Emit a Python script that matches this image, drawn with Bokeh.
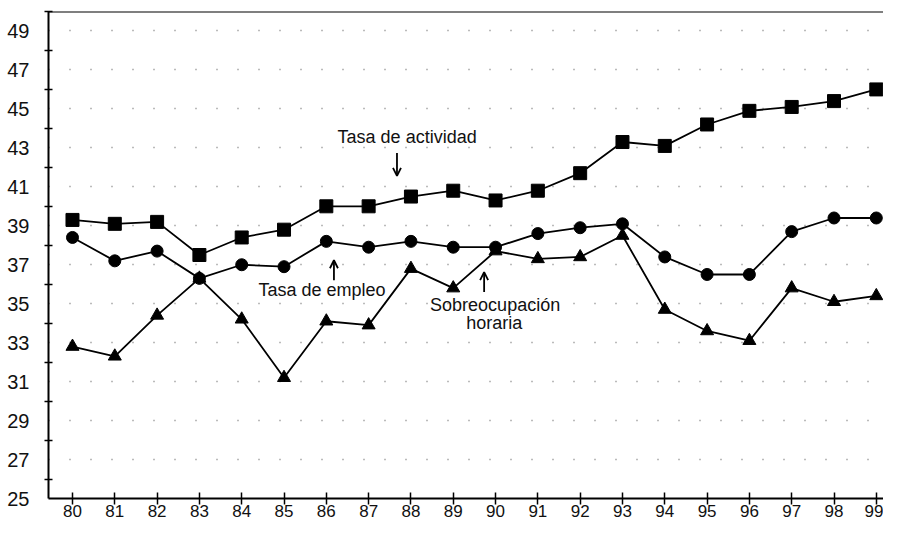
from bokeh.plotting import figure
from bokeh.models import FixedTicker, Span, Arrow, OpenHead, Label
from bokeh.embed import file_html
from bokeh.resources import INLINE

# ---- data ----
years = list(range(80, 100))
year_labels = [str(y) for y in years]
actividad = [39.3, 39.1, 39.2, 37.5, 38.4, 38.8, 40.0, 40.0, 40.5, 40.8,
             40.3, 40.8, 41.7, 43.3, 43.1, 44.2, 44.9, 45.1, 45.4, 46.0]
empleo = [38.4, 37.2, 37.7, 36.3, 37.0, 36.9, 38.2, 37.9, 38.2, 37.9,
          37.9, 38.6, 38.9, 39.1, 37.4, 36.5, 36.5, 38.7, 39.4, 39.4]
sobreocupacion = [32.8, 32.3, 34.4, 36.3, 34.2, 31.2, 34.1, 33.9, 36.8, 35.8,
                  37.7, 37.3, 37.4, 38.5, 34.7, 33.6, 33.1, 35.8, 35.1, 35.4]
y_ticks = list(range(25, 50, 2))
y_minor = list(range(26, 51, 2))

FONT = "Liberation Sans"

p = figure(width=883, height=520, x_range=(79.433, 99.17), y_range=(25, 50),
           output_backend="svg", toolbar_location=None,
           min_border_left=48, min_border_right=0, min_border_top=11,
           min_border_bottom=22)
p.outline_line_color = None
p.background_fill_color = "white"

# axes
p.xaxis.ticker = FixedTicker(ticks=years)
p.xaxis.major_label_overrides = {y: s for y, s in zip(years, year_labels)}
p.xaxis.major_tick_in = 6
p.xaxis.major_tick_out = 6
p.xaxis.minor_tick_line_color = None
p.xaxis.axis_line_width = 2
p.xaxis.major_tick_line_width = 1.5
p.xaxis.major_label_standoff = 0
p.xaxis.major_label_text_font = FONT
p.xaxis.major_label_text_font_size = "17px"
p.xaxis.major_label_text_color = "#111111"

p.yaxis.ticker = FixedTicker(ticks=y_ticks, minor_ticks=y_minor)
p.yaxis.major_tick_in = 0
p.yaxis.major_tick_out = 0
p.yaxis.minor_tick_in = 4
p.yaxis.minor_tick_out = 4
p.yaxis.minor_tick_line_width = 1.5
p.yaxis.axis_line_width = 2
p.yaxis.major_label_standoff = 15
p.yaxis.major_label_text_font = FONT
p.yaxis.major_label_text_font_size = "20px"
p.yaxis.major_label_text_color = "#111111"

# grid
p.xgrid.grid_line_color = None
p.ygrid.ticker = FixedTicker(ticks=y_ticks)
p.ygrid.grid_line_color = "#777777"
p.ygrid.grid_line_dash = "1 20"
p.ygrid.grid_line_width = 1.5

# top border
p.add_layout(Span(location=50, dimension="width", line_color="black", line_width=2))

# series
p.line(years, actividad, line_color="black", line_width=1.8)
p.scatter(years, actividad, marker="square", size=13, color="black")
p.line(years, empleo, line_color="black", line_width=1.8)
p.scatter(years, empleo, marker="circle", size=12, color="black")
p.line(years, sobreocupacion, line_color="black", line_width=1.8)
p.scatter(years, sobreocupacion, marker="triangle", size=13, color="black")

# annotations
def lab(x, y, t):
    p.add_layout(Label(x=x, y=y, text=t, text_font=FONT, text_font_size="18px",
                       text_align="center", text_baseline="middle",
                       text_color="#111111"))

lab(87.91, 43.55, "Tasa de actividad")
lab(85.9, 35.7, "Tasa de empleo")
lab(89.99, 34.94, "Sobreocupación")
lab(89.97, 34.0, "horaria")

for xs, y0, y1 in [(87.67, 42.73, 41.56), (86.18, 36.21, 37.23), (89.73, 35.6, 36.62)]:
    p.add_layout(Arrow(x_start=xs, y_start=y0, x_end=xs, y_end=y1,
                       line_color="black", line_width=1.8,
                       end=OpenHead(size=8, line_width=1.8, line_color="black")))

open("out.html", "w").write(file_html(p, INLINE))
